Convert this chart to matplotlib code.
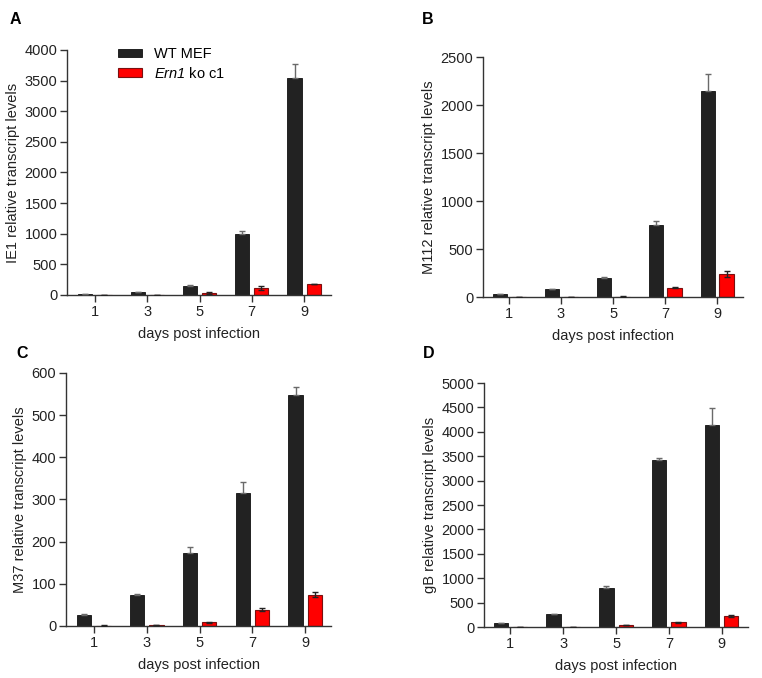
import numpy as np
import matplotlib
matplotlib.use("Agg")
import matplotlib.pyplot as plt
plt.rcParams["font.family"] = ["Liberation Sans", "DejaVu Sans"]
# italic gene name (incl. the digit) in the legend via mathtext
plt.rcParams["mathtext.fontset"] = "custom"
plt.rcParams["mathtext.rm"] = "Liberation Sans:italic"
plt.rcParams["mathtext.it"] = "Liberation Sans:italic"

days = [1, 3, 5, 7, 9]
tick_labels = ["1", "3", "5", "7", "9"]

# IE1
ie1_wt = [10, 45, 152, 989, 3549]
ie1_wt_err = [3, 6, 18, 49, 223]
ie1_ko = [2, 1, 33, 109, 179]
ie1_ko_err = [1, 1, 16, 32, 6]

# M112
m112_wt = [31, 80, 194, 746, 2142]
m112_wt_err = [3, 4, 11, 42, 177]
m112_ko = [1, 3, 5, 97, 243]
m112_ko_err = [0.5, 1, 1, 7, 31]

# M37
m37_wt = [26, 74, 173, 316, 547]
m37_wt_err = [2, 1, 14, 25, 19]
m37_ko = [1, 2, 9, 39, 74]
m37_ko_err = [0.3, 0.3, 1.5, 4, 6]

# gB
gb_wt = [75, 260, 795, 3425, 4130]
gb_wt_err = [5, 14, 54, 41, 349]
gb_ko = [1, 5, 41, 96, 219]
gb_ko_err = [0.5, 1, 4, 6, 21]

panels = [
    # letter, ylabel, wt, wt_err, ko, ko_err, ymax, ystep, axes rect, xlim
    ("A", "IE1 relative transcript levels", ie1_wt, ie1_wt_err, ie1_ko, ie1_ko_err,
     4000, 500, [0.0879, 0.5649, 0.3465, 0.3614], (-0.07, 10.03)),
    ("B", "M112 relative transcript levels", m112_wt, m112_wt_err, m112_ko, m112_ko_err,
     2500, 500, [0.6339, 0.5619, 0.3412, 0.3540], (0, 10)),
    ("C", "M37 relative transcript levels", m37_wt, m37_wt_err, m37_ko, m37_ko_err,
     600, 100, [0.0866, 0.0767, 0.3478, 0.3732], (-0.06, 9.98)),
    ("D", "gB relative transcript levels", gb_wt, gb_wt_err, gb_ko, gb_ko_err,
     5000, 500, [0.6352, 0.0752, 0.3465, 0.3599], (0, 10)),
]
letter_pos = {"A": (15, 20), "B": (428, 20), "C": (22, 353), "D": (429, 353)}

fig = plt.figure(figsize=(7.62, 6.78), dpi=100)

width = 0.54
off = 0.365
spine_col = "#333333"

for letter, ylabel, wt, wt_err, ko, ko_err, ymax, ystep, rect, xlim in panels:
    ax = fig.add_axes(rect)
    x = np.array(days, dtype=float)
    ax.bar(x - off, wt, width, color="#222222", edgecolor="#111111", linewidth=0.6,
           label="WT MEF", zorder=2)
    ax.bar(x + off, ko, width, color="#ff0000", edgecolor="#7a1010", linewidth=0.8,
           label="$Ern1$ ko c1", zorder=2)
    # black bars hide the lower half of their error bars
    ax.errorbar(x - off, wt, yerr=[np.zeros(len(wt)), wt_err], fmt="none",
                ecolor="#6a6a6a", elinewidth=1.0, capsize=2.5, capthick=1.0, zorder=3)
    ax.errorbar(x + off, ko, yerr=ko_err, fmt="none", ecolor="#222222",
                elinewidth=1.0, capsize=2.5, capthick=1.0, zorder=3)

    ax.set_xlim(*xlim)
    ax.set_ylim(0, ymax)
    ax.set_yticks(np.arange(0, ymax + 1, ystep))
    ax.set_xticks(days)
    ax.set_xticklabels(tick_labels)
    for s in ["top", "right"]:
        ax.spines[s].set_visible(False)
    for s in ["left", "bottom"]:
        ax.spines[s].set_color(spine_col)
        ax.spines[s].set_linewidth(1.0)
    ax.tick_params(axis="both", colors=spine_col, labelcolor="#222222",
                   labelsize=10.5, length=5, width=1.0, pad=2, direction="out")
    ax.set_ylabel(ylabel, fontsize=10.5, color="#222222", labelpad=3)
    ax.set_xlabel("days post infection", fontsize=10.5, color="#222222", labelpad=6)

    lx, ly = letter_pos[letter]
    fig.text(lx / 762, 1 - ly / 678, letter, fontsize=11.5, fontweight="bold",
             ha="center", va="center")

    if letter == "A":
        ax.legend(loc="upper left", bbox_to_anchor=(0.145, 1.065), frameon=False,
                  fontsize=10.5, handlelength=1.65, handleheight=0.55,
                  handletextpad=0.8, labelspacing=0.3)

fig.savefig("out.png", dpi=100)
